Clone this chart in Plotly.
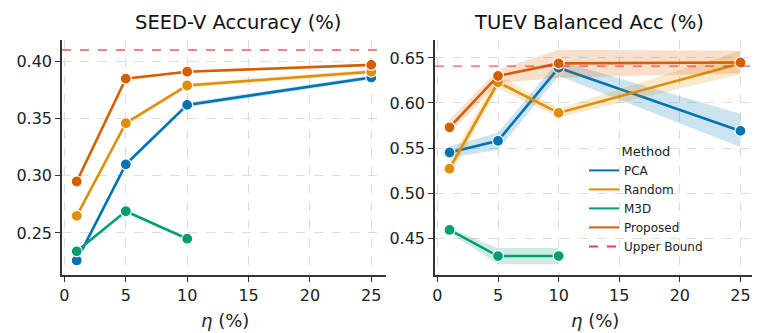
import plotly.graph_objects as go

eta = [1, 5, 10, 25]
methods = ['PCA', 'Random', 'M3D', 'Proposed']
colors = {'PCA': '#0173B2', 'Random': '#DE8F05', 'M3D': '#029E73', 'Proposed': '#D55E00'}
fills = {'PCA': 'rgba(1,115,178,0.2)', 'Random': 'rgba(222,143,5,0.2)',
         'M3D': 'rgba(2,158,115,0.2)', 'Proposed': 'rgba(213,94,0,0.2)'}

# SEED-V accuracy (mean, lower, upper)
seed_mean = {
    'PCA': [0.226, 0.310, 0.362, 0.386],
    'Random': [0.265, 0.346, 0.379, 0.391],
    'M3D': [0.234, 0.269, 0.245],
    'Proposed': [0.295, 0.385, 0.391, 0.397],
}
seed_lo = {
    'PCA': [0.224, 0.308, 0.360, 0.384],
    'Random': [0.263, 0.344, 0.377, 0.389],
    'M3D': [0.233, 0.268, 0.244],
    'Proposed': [0.294, 0.384, 0.390, 0.396],
}
seed_hi = {
    'PCA': [0.228, 0.312, 0.364, 0.388],
    'Random': [0.267, 0.348, 0.381, 0.393],
    'M3D': [0.235, 0.270, 0.246],
    'Proposed': [0.296, 0.386, 0.392, 0.398],
}
seed_upper_bound = 0.41

# TUEV balanced accuracy (mean, lower, upper)
tuev_mean = {
    'PCA': [0.545, 0.558, 0.639, 0.569],
    'Random': [0.527, 0.623, 0.589, 0.644],
    'M3D': [0.459, 0.430, 0.430],
    'Proposed': [0.573, 0.630, 0.644, 0.645],
}
tuev_lo = {
    'PCA': [0.539, 0.548, 0.630, 0.551],
    'Random': [0.518, 0.616, 0.584, 0.632],
    'M3D': [0.456, 0.421, 0.421],
    'Proposed': [0.566, 0.622, 0.628, 0.633],
}
tuev_hi = {
    'PCA': [0.552, 0.567, 0.647, 0.588],
    'Random': [0.536, 0.631, 0.594, 0.658],
    'M3D': [0.461, 0.439, 0.439],
    'Proposed': [0.581, 0.637, 0.659, 0.658],
}
tuev_upper_bound = 0.641

W, H = 760, 333
tick_font = dict(family='DejaVu Sans', size=16, color='#222222')

fig = go.Figure()


def add_panel(xa, ya, mean, lo, hi, ub, show_legend):
    for m in methods:
        xs = eta[:len(mean[m])]
        fig.add_trace(go.Scatter(
            x=xs + xs[::-1], y=hi[m] + lo[m][::-1],
            fill='toself', fillcolor=fills[m], line=dict(width=0),
            mode='lines', hoverinfo='skip', showlegend=False,
            xaxis=xa, yaxis=ya
        ))
        fig.add_trace(go.Scatter(
            x=xs, y=mean[m], mode='lines+markers', name=m,
            line=dict(color=colors[m], width=2.6),
            marker=dict(size=11, color=colors[m], line=dict(color='white', width=1.2)),
            showlegend=False, xaxis=xa, yaxis=ya
        ))
    fig.add_trace(go.Scatter(
        x=[-0.2, 26.2], y=[ub, ub], mode='lines', name='Upper Bound',
        line=dict(color='rgba(245,40,40,0.8)', width=1.4, dash='dash'),
        showlegend=False, xaxis=xa, yaxis=ya
    ))
    if show_legend:
        for m in methods:
            fig.add_trace(go.Scatter(
                x=[None], y=[None], mode='lines', name=m,
                line=dict(color=colors[m], width=2), xaxis=xa, yaxis=ya
            ))
        fig.add_trace(go.Scatter(
            x=[None], y=[None], mode='lines', name='Upper Bound',
            line=dict(color='rgba(245,40,40,0.9)', width=2, dash='dash'),
            xaxis=xa, yaxis=ya
        ))


add_panel('x', 'y', seed_mean, seed_lo, seed_hi, seed_upper_bound, False)
add_panel('x2', 'y2', tuev_mean, tuev_lo, tuev_hi, tuev_upper_bound, True)

axis_common = dict(
    showgrid=True, gridcolor='#dcdcdc', griddash='dash', gridwidth=1,
    showline=True, linecolor='#333333', linewidth=1.6,
    ticks='outside', ticklen=5, tickwidth=1.2, tickcolor='#333333',
    tickfont=tick_font, zeroline=False, automargin=False,
)

y_dom = [1 - 267.3 / H, 1 - 31.7 / H]
fig.update_layout(
    width=W, height=H,
    margin=dict(l=0, r=0, t=0, b=0),
    plot_bgcolor='white', paper_bgcolor='white',
    xaxis=dict(domain=[54 / W, 378 / W], range=[-0.2, 26.2], tickvals=[0, 5, 10, 15, 20, 25],
               anchor='y', **axis_common),
    yaxis=dict(domain=y_dom, range=[0.213, 0.419], tickvals=[0.25, 0.30, 0.35, 0.40],
               tickformat='.2f', anchor='x', **axis_common),
    xaxis2=dict(domain=[427 / W, 747 / W], range=[-0.2, 26.2], tickvals=[0, 5, 10, 15, 20, 25],
                anchor='y2', **axis_common),
    yaxis2=dict(domain=y_dom, range=[0.4086, 0.6703], tickvals=[0.45, 0.50, 0.55, 0.60, 0.65],
                tickformat='.2f', anchor='x2', **axis_common),
    legend=dict(
        x=576 / W, y=1 - 131 / H, xanchor='left', yanchor='top',
        bgcolor='rgba(255,255,255,0)',
        font=dict(family='DejaVu Sans', size=12, color='#222222'),
        title=dict(text='Method', side='top center', font=dict(family='DejaVu Sans', size=13, color='#222222')),
        itemwidth=30, tracegroupgap=0,
    ),
    showlegend=True,
)

annotations = [
    dict(text='SEED-V Accuracy (%)', x=230 / W, y=1 - 15 / H),
    dict(text='TUEV Balanced Acc (%)', x=581 / W, y=1 - 15 / H),
]
for a in annotations:
    fig.add_annotation(xref='paper', yref='paper', xanchor='center', yanchor='middle',
                       showarrow=False, font=dict(family='DejaVu Sans', size=19.5, color='#111111'), **a)
for xc in [217 / W, 587 / W]:
    fig.add_annotation(xref='paper', yref='paper', x=xc, y=1 - 312 / H,
                       xanchor='center', yanchor='middle', showarrow=False,
                       text='<i>η</i> (%)', font=dict(family='DejaVu Sans', size=18, color='#222222'))

fig.write_html("out.html")
